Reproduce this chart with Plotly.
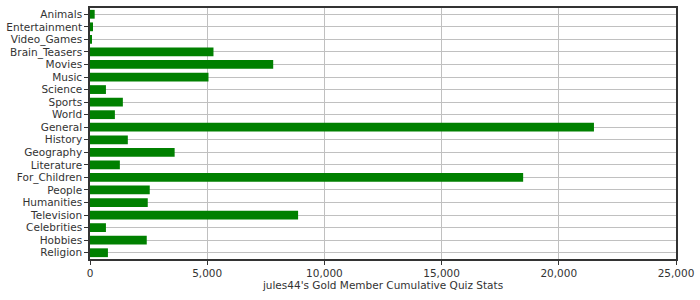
import plotly.graph_objects as go

categories = ["Animals", "Entertainment", "Video_Games", "Brain_Teasers", "Movies", "Music",
              "Science", "Sports", "World", "General", "History", "Geography", "Literature",
              "For_Children", "People", "Humanities", "Television", "Celebrities", "Hobbies", "Religion"]
values = [200, 127, 85, 5268, 7816, 5055, 680, 1402, 1062, 21500, 1614, 3611, 1274,
          18479, 2549, 2464, 8878, 680, 2421, 765]
x_ticks = [0, 5000, 10000, 15000, 20000, 25000]
x_tick_labels = ["0", "5,000", "10,000", "15,000", "20,000", "25,000"]
x_title = "jules44's Gold Member Cumulative Quiz Stats"

fig = go.Figure(go.Bar(
    x=values, y=categories, orientation="h",
    marker=dict(color="#008000", line=dict(width=0)),
    hoverinfo="x+y",
))

fig.update_layout(
    width=700, height=300,
    margin=dict(l=87, r=24, t=6, b=41),
    paper_bgcolor="white", plot_bgcolor="white",
    bargap=0.3,
    showlegend=False,
    font=dict(family="DejaVu Sans", size=10.5, color="#333333"),
)
fig.update_xaxes(
    range=[0, 25000], tickvals=x_ticks, ticktext=x_tick_labels,
    showgrid=True, gridcolor="#c0c0c0", gridwidth=1,
    showline=True, linecolor="#333333", linewidth=1.5, mirror=True,
    ticks="outside", ticklen=4, tickcolor="#333333",
    zeroline=False,
    title=dict(text=x_title, font=dict(size=10.5, color="#333333"), standoff=2),
)
fig.update_yaxes(
    categoryorder="array", categoryarray=categories, autorange="reversed",
    tickmode="array", tickvals=categories, ticktext=categories,
    showgrid=True, gridcolor="#c0c0c0", gridwidth=1,
    showline=True, linecolor="#333333", linewidth=1.5, mirror=True,
    ticks="outside", ticklen=4, tickcolor="#333333",
)

fig.write_html("out.html")
